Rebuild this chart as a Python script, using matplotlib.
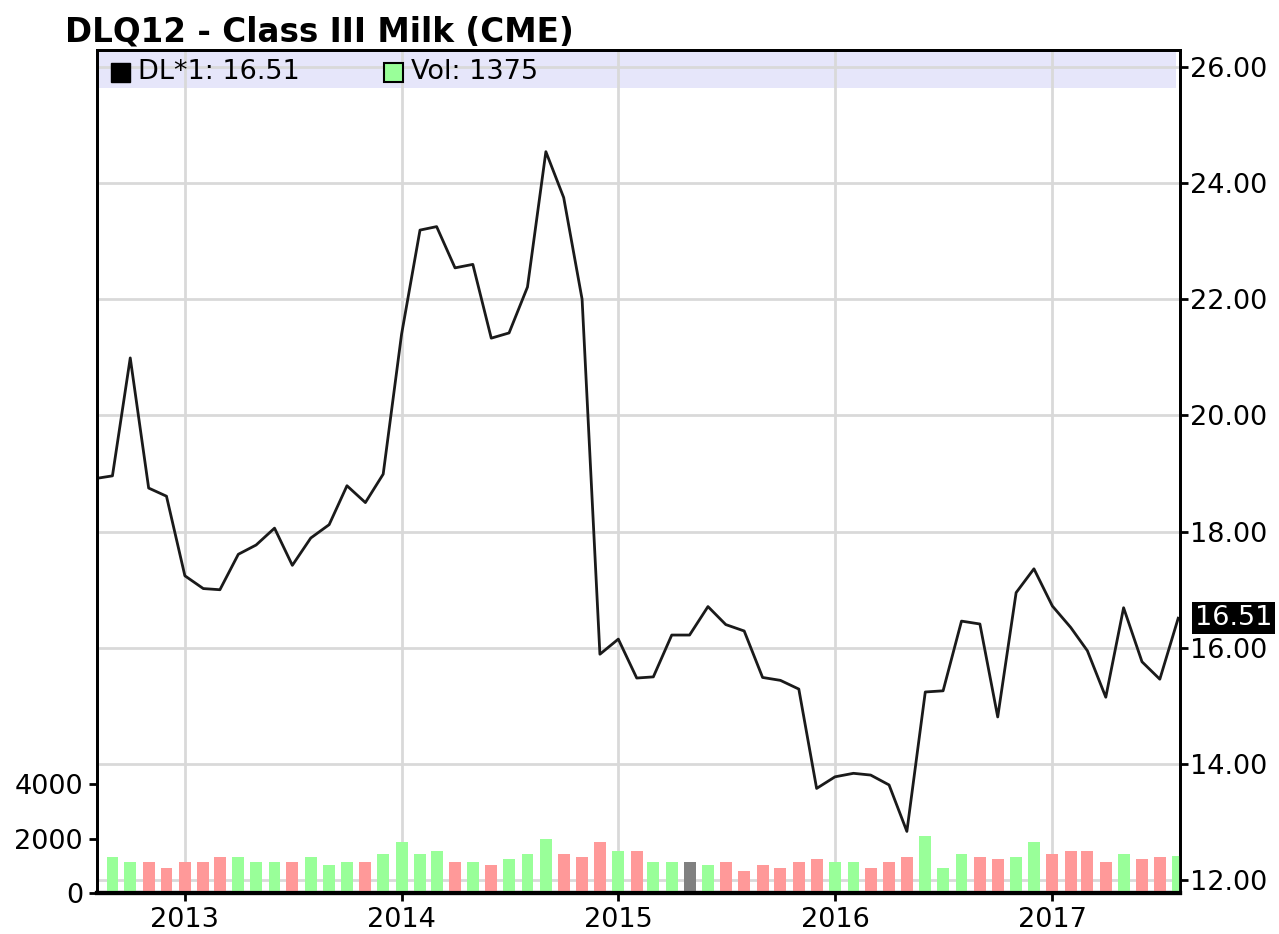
import pandas as pd
import matplotlib
matplotlib.use('Agg')
import matplotlib.pyplot as plt
import matplotlib.dates as mdates
from matplotlib.patches import Rectangle
from datetime import datetime

# monthly Class III milk futures, Aug 2012 - Aug 2017
months = pd.date_range('2012-08-01', '2017-08-01', freq='MS')
price = [18.91, 18.96, 20.99, 18.75, 18.61,
         17.24, 17.02, 17.00, 17.61, 17.77, 18.06, 17.42, 17.89, 18.12, 18.79, 18.50, 18.99,
         21.40, 23.19, 23.25, 22.54, 22.60, 21.33, 21.42, 22.21, 24.54, 23.75, 22.00, 15.89,
         16.15, 15.48, 15.50, 16.22, 16.22, 16.71, 16.40, 16.29, 15.49, 15.44, 15.29, 13.58,
         13.78, 13.84, 13.81, 13.64, 12.84, 15.24, 15.26, 16.46, 16.41, 14.81, 16.95, 17.36,
         16.72, 16.35, 15.95, 15.15, 16.69, 15.76, 15.46, 16.51]
# volume starts Sep 2012
volume = [1340, 1130, 1130, 910,
          1130, 1130, 1340, 1340, 1130, 1130, 1130, 1340, 1020, 1130, 1130, 1430,
          1870, 1430, 1540, 1130, 1130, 1020, 1240, 1430, 1980, 1430, 1340, 1870,
          1540, 1540, 1130, 1130, 1130, 1020, 1130, 800, 1020, 910, 1130, 1240,
          1130, 1130, 910, 1130, 1340, 2090, 910, 1430, 1340, 1240, 1340, 1870,
          1430, 1540, 1540, 1130, 1430, 1240, 1340, 1375]
years = [2013, 2014, 2015, 2016, 2017]
price_ticks = [12, 14, 16, 18, 20, 22, 24, 26]
vol_ticks = [0, 2000, 4000]

plt.rcParams['font.family'] = 'DejaVu Sans'
W, H = 1279, 934
fig = plt.figure(figsize=(W / 100, H / 100), dpi=100)
ax = fig.add_axes([97 / W, 1 - 893 / H, 1083 / W, 843 / H])
vx = ax.twinx()

xs = mdates.date2num(months.to_pydatetime())

# up / down / unchanged colouring for volume bars
colors = []
for i in range(1, len(price)):
    if price[i] > price[i - 1]:
        colors.append('#99ff99')
    elif price[i] < price[i - 1]:
        colors.append('#ff9999')
    else:
        colors.append('#808080')

ax.set_axisbelow(True)
ax.grid(True, color='#d9d9d9', lw=2)
ax.add_patch(Rectangle((0, (893 - 88) / 843), (1176 - 97) / 1083, 36 / 843,
                       transform=ax.transAxes, fc='#e6e6fa', ec='none', zorder=0.2))
ax.plot(xs, price, color='#1a1a1a', lw=2, zorder=3)

ax.set_xlim(mdates.date2num(datetime(2012, 8, 6)), mdates.date2num(datetime(2017, 8, 4)))
ax.set_ylim(11.78, 26.29)
ax.set_yticks(price_ticks)
ax.set_yticklabels(['%.2f' % p for p in price_ticks])
ax.set_xticks([mdates.date2num(datetime(y, 1, 1)) for y in years])
ax.set_xticklabels([str(y) for y in years])

vx.bar(xs[1:], volume, width=20, color=colors, zorder=2)
vx.set_ylim(0, 31000)
vx.set_yticks(vol_ticks)
vx.set_yticklabels([str(v) for v in vol_ticks])

ax.yaxis.tick_right()
ax.yaxis.set_label_position('right')
vx.yaxis.tick_left()
vx.yaxis.set_label_position('left')
ax.tick_params(axis='y', length=6, width=2, pad=1.5, labelsize=19.5)
ax.tick_params(axis='x', length=6, width=2, pad=4, labelsize=19.5)
vx.tick_params(axis='y', length=6, width=2, pad=4, labelsize=19.5)

for a in (ax, vx):
    for s in a.spines.values():
        s.set_linewidth(2)
        s.set_color('black')
    a.spines['bottom'].set_linewidth(3)

# last price marker on the right axis
ax.text((1195 - 97) / 1083, price[-1], '%.2f' % price[-1], transform=ax.get_yaxis_transform(),
        color='white', fontsize=19.5, va='center', ha='left',
        bbox=dict(boxstyle='square,pad=0.1', fc='black', ec='none'))

# title and legend row
fig.text(65 / W, 1 - 41 / H, 'DLQ12 - Class III Milk (CME)', fontsize=23.5,
         fontweight='bold', va='baseline')
fig.add_artist(Rectangle((111 / W, 1 - 82 / H), 19 / W, 19 / H, transform=fig.transFigure,
                         fc='black', ec='black'))
fig.text(138 / W, 1 - 72 / H, 'DL*1: %.2f' % price[-1], fontsize=19.5, va='center')
fig.add_artist(Rectangle((384 / W, 1 - 82 / H), 19 / W, 19 / H, transform=fig.transFigure,
                         fc='#99ff99', ec='black', lw=1.5))
fig.text(411 / W, 1 - 72 / H, 'Vol: %d' % volume[-1], fontsize=19.5, va='center')

fig.savefig('out.png', dpi=100)
